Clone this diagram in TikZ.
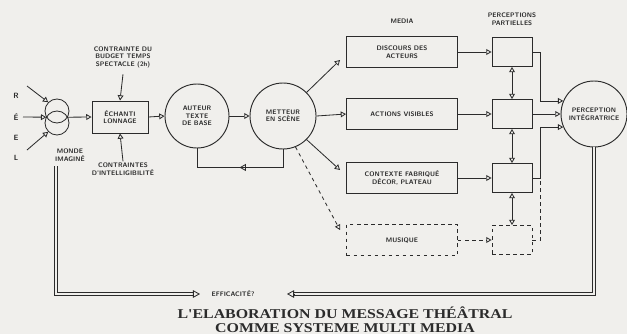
\documentclass[tikz,border=0pt]{standalone}
\usepackage{fontspec}
\newfontfamily\titrefont{Liberation Serif}
\usetikzlibrary{arrows.meta, calc, positioning, decorations.markings}
\definecolor{ink}{HTML}{2B2B2B}
\definecolor{fond}{HTML}{F0EFEC}

\tikzset{
  tip/.style={-{Triangle[open,length=4.5pt,width=5pt]}},
  bothtips/.style={{Triangle[open,length=4.5pt,width=5pt]}-{Triangle[open,length=4.5pt,width=5pt]}},
  bigtip/.style={-{Triangle[open,length=6pt,width=6.5pt]}},
  lbl/.style={font=\sffamily\bfseries\fontsize{5.6}{6.4}\selectfont, align=center, inner sep=1pt},
  boite/.style={draw, line width=0.8pt, align=center, font=\sffamily\bfseries\fontsize{5.6}{6.4}\selectfont},
  media/.style={boite, minimum width=3.33cm, minimum height=0.93cm},
  partbox/.style={boite, minimum width=1.2cm, minimum height=0.87cm},
  rond/.style={boite, circle, inner sep=0pt},
  epais/.style={draw=ink, line width=2.8pt, postaction={draw=fond, line width=1pt}},
  titre/.style={font=\titrefont\bfseries\fontsize{11.5}{12}\selectfont, inner sep=0.5pt, anchor=base, xscale=1.18, transform shape},
  midtip/.style={postaction={decorate}, decoration={markings,
    mark=at position 0.5 with {\arrow{Triangle[open,length=5.5pt,width=6pt]}}}}
}

\begin{document}
\begin{tikzpicture}[x=0.03cm, y=-0.03cm, line width=0.7pt, color=ink]
\fill[fond] (0,0) rectangle (627,334);
\useasboundingbox (0,0) rectangle (627,334);

% le reel et le monde imagine
\foreach \l/\y in {R/96, É/117, E/138, L/158}
  \node[lbl, font=\sffamily\bfseries\fontsize{6.5}{7}\selectfont] (reel\y) at (16,\y) {\l};
\node[circle, draw, minimum size=0.72cm, inner sep=0pt] (mondehaut) at (57,111) {};
\node[circle, draw, minimum size=0.72cm, inner sep=0pt] (mondebas) at (57,123) {};
\node[lbl] (mondelbl) at (70,155) {MONDE\\IMAGINÉ};
\coordinate (r1) at (27,86);
\coordinate (r2) at (23,117);
\coordinate (r3) at (27,150);
\draw[tip] (r1) -- (mondehaut.135);
\draw[tip] (r2) -- (mondehaut.210);
\draw[tip] (r3) -- (mondebas.225);

% echantillonnage et contraintes
\node[boite, minimum width=1.68cm, minimum height=0.96cm] (ech) at (120,117) {ÉCHANTI\\LONNAGE};
\node[lbl] (budget) at (123,57) {CONTRAINTE DU\\BUDGET TEMPS\\SPECTACLE (2h)};
\node[lbl] (intel) at (123,169) {CONTRAINTES\\D'INTELLIGIBILITÉ};
\draw[tip] (budget.south) ++(0,5) -- (ech.north);
\draw[tip] (intel.north) -- (ech.south);
\draw[tip] (mondehaut.330) -- (ech.west);

% auteur et metteur en scene
\node[rond, minimum size=1.92cm] (aut) at (197,116) {AUTEUR\\TEXTE\\DE BASE};
\node[rond, minimum size=1.98cm] (mett) at (283,116) {METTEUR\\EN SCÈNE};
\draw[tip] (ech.east) -- (aut.west);
\draw[tip] (aut.east) -- (mett.west);
\draw[midtip] (mett.south) -- ++(0,18) -| (aut.south);

% media
\node[lbl] (medialbl) at (402,21) {MEDIA};
\node[media] (m1) at (402,52) {DISCOURS DES\\ACTEURS};
\node[media] (m2) at (402,114) {ACTIONS VISIBLES};
\node[media] (m3) at (402,178) {CONTEXTE FABRIQUÉ\\DÉCOR, PLATEAU};
\node[media, dashed] (m4) at (402,240) {MUSIQUE};
\draw[tip] (mett.45) -- ($(m1.west)+(-6,8)$);
\draw[tip] (mett.east) -- (m2.west);
\draw[tip] (mett.-45) -- ($(m3.west)+(-6,-8)$);
\draw[tip, dashed] (mett.-68) -- ($(m4.west)+(-6,-10)$);

% perceptions partielles
\node[lbl] (partlbl) at (512,19) {PERCEPTIONS\\PARTIELLES};
\node[partbox] (p1) at (512,52) {};
\node[partbox] (p2) at (512,114) {};
\node[partbox] (p3) at (512,178) {};
\node[partbox, dashed] (p4) at (512,240) {};
\foreach \i in {1,2,3} \draw[tip] (m\i.east) -- (p\i.west);
\draw[tip, dashed] (m4.east) -- (p4.west);
\draw[bothtips] (p1.south) -- (p2.north);
\draw[bothtips] (p2.south) -- (p3.north);
\draw[bothtips] (p3.south) -- (p4.north);

% perception integratrice
\node[rond, minimum size=1.98cm] (perc) at (594,114) {PERCEPTION\\INTÉGRATRICE};
\draw[tip] (p1.east) -- ++(8,0) |- (perc.157);
\draw[tip] (p2.east) -- (perc.west);
\draw[tip] (p3.east) -- ++(8,0) |- (perc.203);
\draw[dashed] (p4.east) -- ++(8,0) -- ($(p3.east)+(8,0)$);

% retour : efficacite
\node[lbl] (eff) at (233,294) {EFFICACITÉ?};
\coordinate (effg) at (200,294);
\coordinate (effd) at (287,294);
\coordinate (mondepied) at (56,166);
\draw[epais] (mondepied) |- ($(effg)+(-6,0)$);
\draw[bigtip] ($(effg)+(-7,0)$) -- (effg);
\draw[epais] (perc.south) |- ($(effd)+(6,0)$);
\draw[bigtip] ($(effd)+(7,0)$) -- (effd);

% titre
\node[titre] (titre1) at (345,318) {L'ELABORATION DU MESSAGE THÉÂTRAL};
\node[titre] (titre2) at (345,332) {COMME SYSTEME MULTI MEDIA};
\end{tikzpicture}
\end{document}
